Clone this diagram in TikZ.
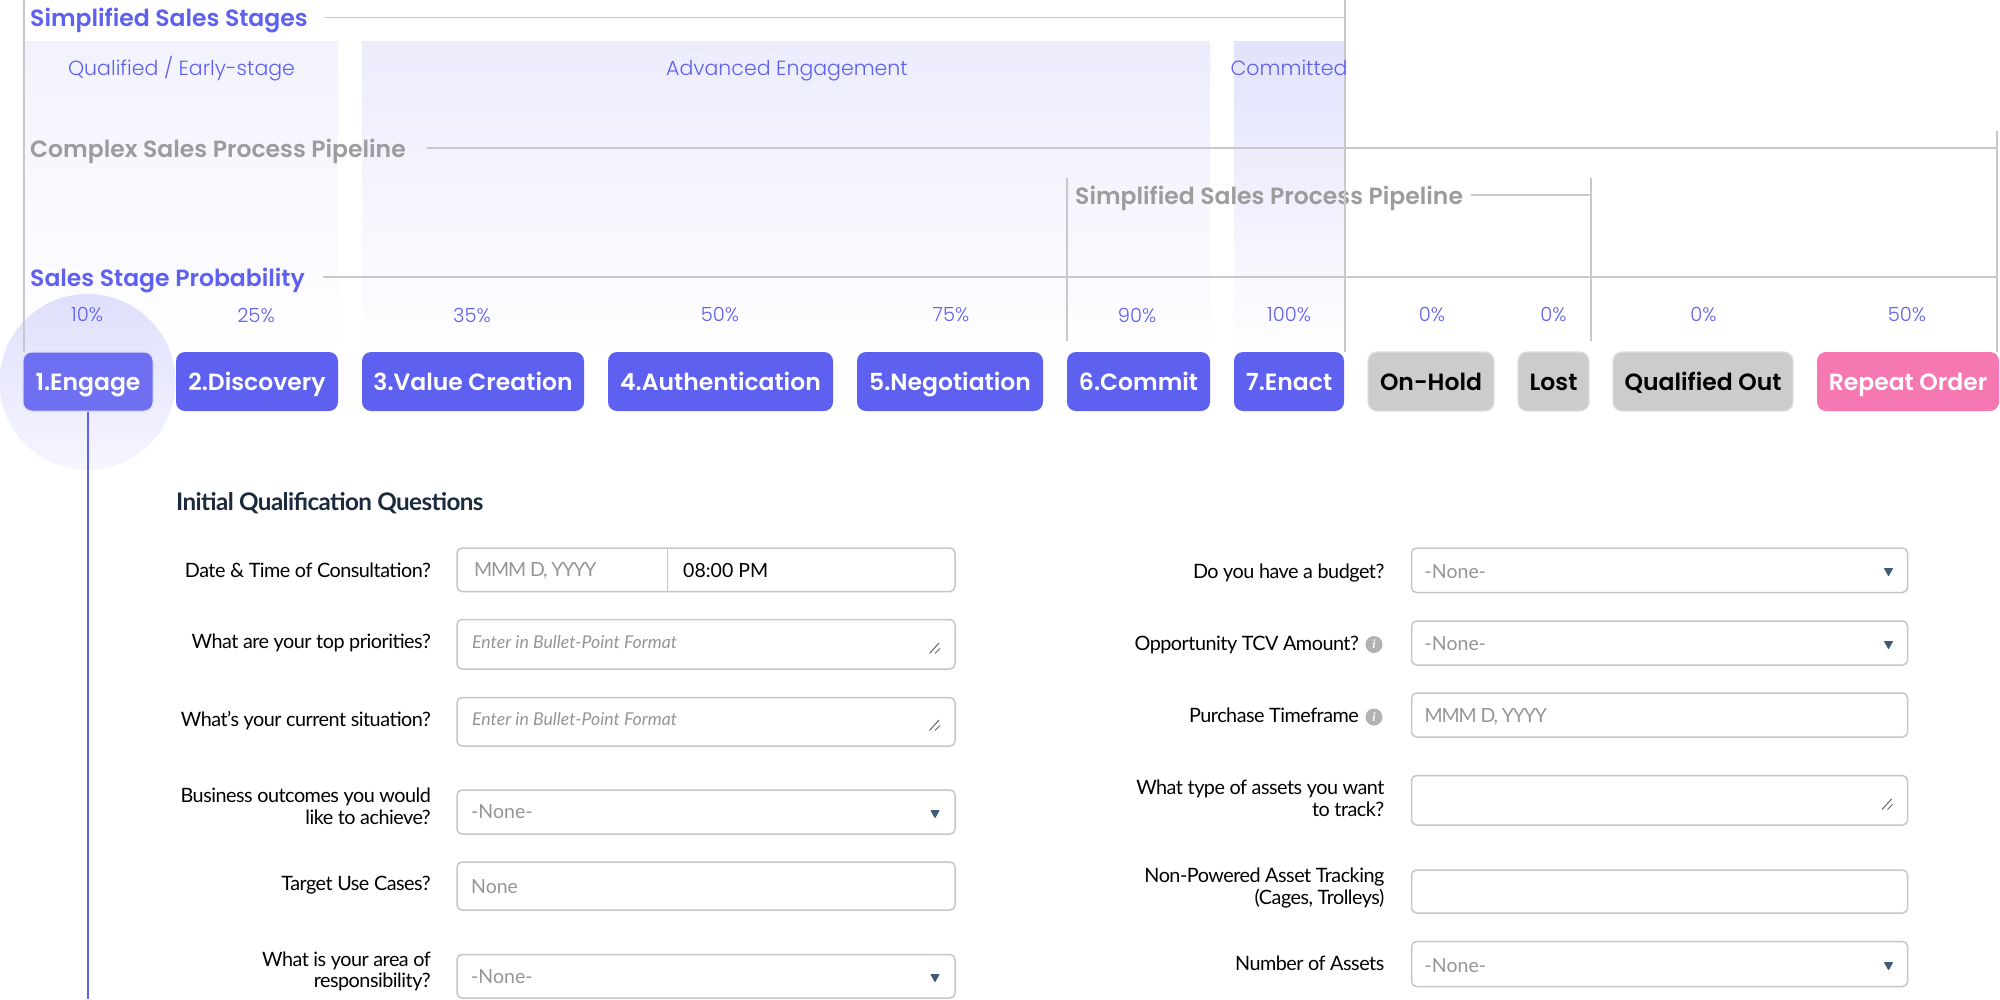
\documentclass[tikz,border=0pt]{standalone}
\usepackage{fontspec}
\setmainfont[LetterSpace=-2.5]{Lato}
\newfontfamily\latowide{Lato}
\newfontfamily\latotight[LetterSpace=-6]{Lato}
\newfontfamily\popsemi{Poppins SemiBold}
\newfontfamily\poplight{Poppins Light}
\definecolor{brandblue}{HTML}{5E60EF}
\definecolor{guidegrey}{HTML}{C9C9CD}
\definecolor{pipegrey}{HTML}{9C9C9C}
\definecolor{hintgrey}{HTML}{959595}
\definecolor{fieldgrey}{HTML}{C6C6C6}
\definecolor{arrowblue}{HTML}{3F5B78}
\definecolor{headslate}{HTML}{1B2A3C}
\definecolor{HotPink}{HTML}{F578B3}
\tikzset{
	guide/.style={guidegrey,line width=1.3pt},
	stem/.style={brandblue,line width=1.3pt},
	stagettl/.style={anchor=west,inner sep=0pt,text=brandblue,font=\popsemi\fontsize{23.5}{27}\selectfont},
	pipettl/.style={anchor=west,inner sep=0pt,text=pipegrey,font=\popsemi\fontsize{23.5}{27}\selectfont},
	bandlbl/.style={inner sep=0pt,text=brandblue,text height=15pt,text depth=5pt,font=\poplight\fontsize{20.5}{24}\selectfont},
	pct/.style={inner sep=0pt,text=brandblue,font=\poplight\fontsize{19.5}{22}\selectfont},
	btn/.style={rounded corners=9pt,minimum height=59pt,inner sep=0pt,text height=23pt,text depth=5pt,font=\popsemi\fontsize{23.5}{27}\selectfont},
	stagebtn/.style={btn,fill=brandblue,text=white},
	greybtn/.style={btn,fill=black!20,draw=black!13,line width=1.2pt,text=black},
	pinkbtn/.style={btn,fill=HotPink,text=white},
	qlabel/.style={anchor=east,align=right,inner sep=0pt,yshift=-2.5pt,font=\fontsize{19.8}{21.5}\selectfont,execute at begin node=\strut,execute at end node=\strut},
	field/.style={draw=fieldgrey,line width=1.5pt,rounded corners=5pt},
	hint/.style={anchor=west,inner sep=0pt,text=hintgrey,font=\latowide\fontsize{19.5}{23}\selectfont},
	hintit/.style={anchor=west,inner sep=0pt,text=hintgrey,font=\latowide\itshape\fontsize{17.7}{21}\selectfont},
	infoicon/.style={circle,fill=black!30,minimum size=17pt,inner sep=0pt,text=white,font=\latowide\bfseries\itshape\fontsize{12}{12}\selectfont},
}
\begin{document}
\begin{tikzpicture}[x=1pt,y=-1pt]
		\useasboundingbox (0,0) rectangle (2000,999);
		\shade[top color=brandblue!8,bottom color=white] (25,41) rectangle (338,356);
		\shade[top color=brandblue!12,bottom color=white] (362,41) rectangle (1210,356);
		\shade[top color=brandblue!18,bottom color=white] (1234,41) rectangle (1345,356);
		\shade[top color=brandblue!20,bottom color=brandblue!6] (87.5,382) circle (88);
		\coordinate (leftTop) at (24,0);
		\coordinate (midTop) at (1345,0);
		\coordinate (stagesEnd) at (1345,17.5);
		\coordinate (complexEnd) at (1997,148);
		\coordinate (complexTop) at (1997,131);
		\coordinate (probEnd) at (1997,277);
		\coordinate (simpleLeftTop) at (1067,178);
		\coordinate (simpleLeftEnd) at (1067,341);
		\coordinate (simpleRightTop) at (1591,178);
		\coordinate (simpleRightEnd) at (1591,341);
		\coordinate (simpleMid) at (1591,195);
		\coordinate (stemEnd) at (88,999);
		\node[stagettl] (stagesTtl) at (30,20.5) {Simplified Sales Stages};
		\node[pipettl] (complexTtl) at (30,151.5) {Complex Sales Process Pipeline};
		\node[pipettl] (simpleTtl) at (1075,198.5) {Simplified Sales Process Pipeline};
		\node[stagettl] (probTtl) at (30,280.5) {Sales Stage Probability};
		\node[stagebtn,fill=brandblue!90!white,draw=brandblue!25,line width=1pt,minimum width=130pt] (engage) at (88,381.5) {1.Engage};
		\node[stagebtn,minimum width=162pt] (discovery) at (257,381.5) {2.Discovery};
		\node[stagebtn,minimum width=222pt] (value) at (473,381.5) {3.Value Creation};
		\node[stagebtn,minimum width=225pt] (auth) at (720.5,381.5) {4.Authentication};
		\node[stagebtn,minimum width=186pt] (nego) at (950,381.5) {5.Negotiation};
		\node[stagebtn,minimum width=143pt] (commit) at (1138.5,381.5) {6.Commit};
		\node[stagebtn,minimum width=110pt] (enact) at (1289,381.5) {7.Enact};
		\node[greybtn,minimum width=126pt] (hold) at (1431,381.5) {On-Hold};
		\node[greybtn,minimum width=71pt] (lost) at (1553.5,381.5) {Lost};
		\node[greybtn,minimum width=180pt] (qualout) at (1703,381.5) {Qualified Out};
		\node[pinkbtn,minimum width=182pt] (repeat) at (1908,381.5) {Repeat Order};
		\draw[guide] (leftTop) -- (leftTop |- engage.north);
		\draw[guide] (midTop) -- (midTop |- enact.north);
		\draw[guide] ([xshift=16pt]stagesTtl.east |- stagesEnd) -- (stagesEnd);
		\draw[guide] ([xshift=21pt]complexTtl.east |- complexEnd) -- (complexEnd);
		\draw[guide] (complexTop) -- (complexTop |- repeat.north);
		\draw[guide] ([xshift=18pt]probTtl.east |- probEnd) -- (probEnd);
		\draw[guide] (simpleLeftTop) -- (simpleLeftEnd);
		\draw[guide] (simpleRightTop) -- (simpleRightEnd);
		\draw[guide] ([xshift=8pt]simpleTtl.east |- simpleMid) -- (simpleMid);
		\draw[stem] (engage.south) -- (stemEnd);
		\node[bandlbl] (bandEarly) at (181.5,70.5) {Qualified / Early-stage};
		\node[bandlbl] (bandAdvanced) at (787,70.5) {Advanced Engagement};
		\node[bandlbl] (bandCommitted) at (1289,70.5) {Committed};
		\node[pct] (pctA) at (87,315) {10\%};
		\node[pct] (pctB) at (256,315) {25\%};
		\node[pct] (pctC) at (472,315) {35\%};
		\node[pct] (pctD) at (720,315) {50\%};
		\node[pct] (pctE) at (951,315) {75\%};
		\node[pct] (pctF) at (1137,315) {90\%};
		\node[pct] (pctG) at (1289,315) {100\%};
		\node[pct] (pctH) at (1432,315) {0\%};
		\node[pct] (pctI) at (1553.5,315) {0\%};
		\node[pct] (pctJ) at (1703.5,315) {0\%};
		\node[pct] (pctK) at (1907,315) {50\%};
		\node[anchor=west,inner sep=0pt,text=headslate,font=\bfseries\fontsize{24.2}{28}\selectfont] (formTtl) at (176,503.5) {Initial Qualification Questions};
		\node[qlabel] (qDate) at (431,571) {Date \& Time of Consultation?};
		\node[qlabel] (qPrior) at (431,642) {What are your top priorities?};
		\node[qlabel] (qSitu) at (431,720) {What's your current situation?};
		\node[qlabel] (qOutcome) at (431,807) {Business outcomes you would\\like to achieve?};
		\node[qlabel] (qUse) at (431,884) {Target Use Cases?};
		\node[qlabel] (qArea) at (431,970.5) {What is your area of\\responsibility?};
		\node[qlabel] (qBudget) at (1384.5,571.5) {Do you have a budget?};
		\node[qlabel] (qTcv) at (1359,644) {Opportunity TCV Amount?};
		\node[qlabel] (qFrame) at (1359,716) {Purchase Timeframe};
		\node[qlabel] (qAsset) at (1384.5,799) {What type of assets you want\\to track?};
		\node[qlabel] (qPower) at (1384.5,887) {Non-Powered Asset Tracking\\(Cages, Trolleys)};
		\node[qlabel] (qNumber) at (1384.5,964) {Number of Assets};
		\node[infoicon] (infoTcv) at (1374,644.5) {i};
		\node[infoicon] (infoFrame) at (1374,717) {i};
		\draw[field] (457,548) rectangle (955,591.5);
		\draw[fieldgrey,line width=1.5pt] (667.5,548) -- (667.5,591.5);
		\draw[field] (457,619.5) rectangle (955,669);
		\draw[field] (457,697.5) rectangle (955,746);
		\draw[field] (457,790) rectangle (955,834);
		\draw[field] (457,862) rectangle (955,910);
		\draw[field] (457,954.5) rectangle (955,998);
		\draw[field] (1411.5,548) rectangle (1907.5,592.5);
		\draw[field] (1411.5,621) rectangle (1907.5,665);
		\draw[field] (1411.5,693) rectangle (1907.5,737);
		\draw[field] (1411.5,775.5) rectangle (1907.5,825);
		\draw[field] (1411.5,870) rectangle (1907.5,913);
		\draw[field] (1411.5,941.5) rectangle (1907.5,986.5);
		\node[hint,font=\latotight\fontsize{19.5}{23}\selectfont] (dateHint) at (474,571) {MMM D, YYYY};
		\node[hint,text=black] (timeVal) at (683,571) {08:00 PM};
		\node[hintit] (priorHint) at (472,642) {Enter in Bullet-Point Format};
		\node[hintit] (situHint) at (472,719) {Enter in Bullet-Point Format};
		\node[hint] (outcomeVal) at (471,812) {-None-};
		\node[hint] (useVal) at (471,886.5) {None};
		\node[hint] (areaVal) at (471,977) {-None-};
		\node[hint] (budgetVal) at (1424.5,571.5) {-None-};
		\node[hint] (tcvVal) at (1424.5,644) {-None-};
		\node[hint,font=\latotight\fontsize{19.5}{23}\selectfont] (frameHint) at (1424.5,716.5) {MMM D, YYYY};
		\node[hint] (numberVal) at (1424.5,965.5) {-None-};
		\foreach \ax/\ay in {935/814,935/978,1888.5/572,1888.5/645,1888.5/966}
			\fill[arrowblue,rounded corners=.8pt] (\ax-4.8,\ay-4) -- (\ax+4.8,\ay-4) -- (\ax,\ay+4.5) -- cycle;
		\foreach \gx/\gy in {935/648,935/725,1887.5/804}
			\draw[black!60,line width=1pt] (\gx-5.5,\gy+5.5) -- (\gx+4,\gy-5) (\gx,\gy+5.5) -- (\gx+5,\gy+.5);
		\end{tikzpicture}
\end{document}
